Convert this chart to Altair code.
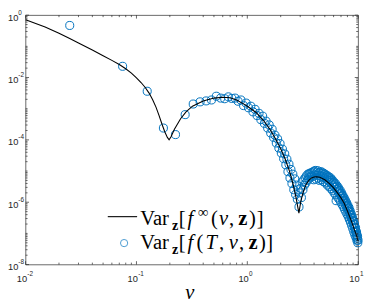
import altair as alt
import pandas as pd

# ---------------- data ----------------
line_v = [0.01, 0.015, 0.02, 0.025, 0.03, 0.04, 0.05, 0.06, 0.07, 0.08,
          0.09, 0.10, 0.11, 0.12, 0.13, 0.14, 0.15, 0.16, 0.17, 0.18,
          0.19, 0.197, 0.205, 0.22, 0.25, 0.28, 0.32, 0.40, 0.50, 0.60,
          0.70, 0.80, 0.90, 1.0, 1.2, 1.4, 1.6, 1.8, 2.0, 2.2,
          2.4, 2.6, 2.75, 2.85, 2.92, 2.98, 3.05, 3.2, 3.4, 3.6,
          3.8, 4.0, 4.2, 4.5, 5.0, 5.5, 6.0, 6.5, 7.0, 7.5,
          8.0, 8.5, 9.0, 9.5, 10.0]
line_log10 = [-0.15, -0.38, -0.58, -0.75, -0.89, -1.12, -1.30, -1.45, -1.58, -1.72,
              -1.86, -2.01, -2.16, -2.32, -2.50, -2.71, -2.95, -3.22, -3.50, -3.74,
              -3.92, -4.00, -3.90, -3.66, -3.32, -3.10, -2.92, -2.75, -2.66, -2.63,
              -2.65, -2.72, -2.82, -2.92, -3.12, -3.38, -3.66, -3.97, -4.28, -4.62,
              -5.00, -5.45, -5.85, -6.15, -6.35, -6.15, -5.95, -5.66, -5.42, -5.29,
              -5.22, -5.19, -5.18, -5.20, -5.28, -5.40, -5.54, -5.70, -5.86, -6.04,
              -6.28, -6.52, -6.76, -7.00, -7.25]

pts_v = [0.025, 0.075, 0.125, 0.175, 0.225, 0.275, 0.325, 0.375, 0.425, 0.475,
         0.525, 0.575, 0.625, 0.675, 0.725, 0.775, 0.825, 0.875, 0.925, 0.975,
         1.025, 1.075, 1.125, 1.175, 1.225, 1.275, 1.325, 1.375, 1.425, 1.475,
         1.525, 1.575, 1.625, 1.675, 1.725, 1.775, 1.825, 1.875, 1.925, 1.975,
         2.025, 2.075, 2.125, 2.175, 2.225, 2.275, 2.325, 2.375, 2.425, 2.475,
         2.525, 2.575, 2.625, 2.675, 2.725, 2.775, 2.825, 2.875, 2.925, 2.975,
         3.025, 3.075, 3.125, 3.175, 3.225, 3.275, 3.325, 3.375, 3.425, 3.475,
         3.525, 3.575, 3.625, 3.675, 3.725, 3.775, 3.825, 3.875, 3.925, 3.975,
         4.025, 4.075, 4.125, 4.175, 4.225, 4.275, 4.325, 4.375, 4.425, 4.475,
         4.525, 4.575, 4.625, 4.675, 4.725, 4.775, 4.825, 4.875, 4.925, 4.975,
         5.025, 5.075, 5.125, 5.175, 5.225, 5.275, 5.325, 5.375, 5.425, 5.475,
         5.525, 5.575, 5.625, 5.675, 5.725, 5.775, 5.825, 5.875, 5.925, 5.975,
         6.025, 6.075, 6.125, 6.175, 6.225, 6.275, 6.325, 6.375, 6.425, 6.475,
         6.525, 6.575, 6.625, 6.675, 6.725, 6.775, 6.825, 6.875, 6.925, 6.975,
         7.025, 7.075, 7.125, 7.175, 7.225, 7.275, 7.325, 7.375, 7.425, 7.475,
         7.525, 7.575, 7.625, 7.675, 7.725, 7.775, 7.825, 7.875, 7.925, 7.975,
         8.025, 8.075, 8.125, 8.175, 8.225, 8.275, 8.325, 8.375, 8.425, 8.475,
         8.525, 8.575, 8.625, 8.675, 8.725, 8.775, 8.825, 8.875, 8.925, 8.975,
         9.025, 9.075, 9.125, 9.175, 9.225, 9.275, 9.325, 9.375, 9.425, 9.475,
         9.525, 9.575, 9.625, 9.675, 9.725, 9.775, 9.825, 9.875, 9.925, 9.975]
pts_log10 = [-0.33, -1.64, -2.44, -3.62, -3.83, -3.19, -2.85, -2.78, -2.75, -2.72,
             -2.60, -2.66, -2.68, -2.62, -2.67, -2.66, -2.76, -2.72, -2.90, -2.82,
             -2.97, -2.92, -3.10, -3.02, -3.22, -3.15, -3.35, -3.24, -3.47, -3.40,
             -3.62, -3.52, -3.78, -3.66, -3.92, -3.85, -4.10, -3.97, -4.26, -4.12,
             -4.42, -4.30, -4.60, -4.45, -4.80, -4.62, -5.02, -4.78, -5.22, -4.95,
             -5.40, -5.10, -5.60, -5.25, -5.75, -5.45, -5.90, -5.60, -6.15, -5.70,
             -5.55, -5.85, -5.35, -5.60, -5.28, -5.45, -5.22, -5.38, -5.15, -5.30,
             -5.10, -5.26, -5.08, -5.20, -5.06, -5.15, -5.05, -5.18, -5.02, -5.28,
             -5.00, -5.12, -4.98, -5.26, -5.05, -5.14, -4.99, -5.22, -5.06, -5.30,
             -5.04, -5.16, -5.02, -5.28, -5.08, -5.18, -5.06, -5.34, -5.12, -5.22,
             -5.10, -5.38, -5.16, -5.26, -5.14, -5.45, -5.20, -5.30, -5.18, -5.50,
             -5.25, -5.36, -5.22, -5.56, -5.30, -5.42, -5.28, -5.62, -5.36, -5.48,
             -5.35, -5.70, -5.42, -5.52, -5.40, -5.76, -5.95, -5.50, -5.60, -5.48,
             -5.84, -5.58, -5.68, -5.55, -5.90, -5.65, -5.74, -5.62, -5.98, -5.72,
             -5.82, -5.70, -6.06, -5.80, -5.90, -5.78, -6.14, -5.88, -5.98, -5.86,
             -6.22, -5.96, -6.06, -5.94, -6.30, -6.04, -6.14, -6.02, -6.38, -6.12,
             -6.22, -6.10, -6.46, -6.20, -6.30, -6.18, -6.55, -6.30, -6.40, -6.28,
             -6.64, -6.40, -6.50, -6.38, -6.74, -6.50, -6.60, -6.48, -6.84, -6.60,
             -6.70, -6.58, -6.95, -6.70, -6.80, -6.70, -7.04, -6.82, -6.92, -6.82,
             -7.12, -6.94, -7.04, -6.96, -7.22, -7.06, -7.16, -7.10, -7.30, -7.22]

x_major = [0.01, 0.1, 1, 10]
x_major_exp = ["-2", "-1", "0", "1"]
y_major = [1e-8, 1e-6, 1e-4, 1e-2, 1]
y_major_exp = ["-8", "-6", "-4", "-2", "0"]

x_minor = [m * 10.0 ** k for k in (-2, -1, 0) for m in range(2, 10)]
y_minor = [m * 10.0 ** k for k in range(-8, 0) for m in range(1, 10)
           if not (m == 1 and k % 2 == 0)]

# ---------------- layout / style ----------------
W, H = 340, 255
AX = "#262626"
BLUE = "#0072BD"
OX, OY = 26, 12  # page position of the plot origin

xs = alt.Scale(type="log", domain=[0.01, 10], nice=False)
ys = alt.Scale(type="log", domain=[1e-8, 1], nice=False)

line_df = pd.DataFrame({"v": line_v, "y": [10 ** a for a in line_log10],
                        "o": list(range(len(line_v)))})
pts_df = pd.DataFrame({"v": pts_v, "y": [10 ** a for a in pts_log10]})

points = alt.Chart(pts_df).mark_point(
    shape="circle", filled=False, color=BLUE, size=68, strokeWidth=1, opacity=1
).encode(x=alt.X("v:Q", scale=xs, axis=None), y=alt.Y("y:Q", scale=ys, axis=None))

line = alt.Chart(line_df).mark_line(color="black", strokeWidth=1.1).encode(
    x=alt.X("v:Q", scale=xs, axis=None), y=alt.Y("y:Q", scale=ys, axis=None),
    order="o:Q")

layers = [points, line]


def xtick_layers(vals, L):
    df = pd.DataFrame({"t": vals})
    b = alt.Chart(df).mark_rule(color=AX, strokeWidth=0.7)
    xx = alt.X("t:Q", scale=xs, axis=None)
    return [b.encode(x=xx, y=alt.value(H), y2=alt.value(H - L)),
            b.encode(x=xx, y=alt.value(0), y2=alt.value(L))]


def ytick_layers(vals, L):
    df = pd.DataFrame({"t": vals})
    b = alt.Chart(df).mark_rule(color=AX, strokeWidth=0.7)
    yy = alt.Y("t:Q", scale=ys, axis=None)
    return [b.encode(y=yy, x=alt.value(0), x2=alt.value(L)),
            b.encode(y=yy, x=alt.value(W), x2=alt.value(W - L))]


layers += xtick_layers(x_major, 3.5) + xtick_layers(x_minor, 2)
layers += ytick_layers(y_major, 3.5) + ytick_layers(y_minor, 2)

# tick labels 10^k
ylab = pd.DataFrame({"t": y_major, "e": y_major_exp})
layers.append(alt.Chart(ylab).mark_text(
    text="10", align="left", baseline="middle", dy=2.5, font="Liberation Sans",
    fontSize=9.5, color=AX).encode(y=alt.Y("t:Q", scale=ys, axis=None),
                                    x=alt.value(-18)))
layers.append(alt.Chart(ylab).mark_text(
    align="left", baseline="middle", dy=-2.5, font="Liberation Sans",
    fontSize=6.5, color=AX).encode(y=alt.Y("t:Q", scale=ys, axis=None),
                                    x=alt.value(-7.4), text="e:N"))

xlab = pd.DataFrame({"t": x_major, "e": x_major_exp})
layers.append(alt.Chart(xlab).mark_text(
    text="10", align="right", baseline="middle", dx=1.5, font="Liberation Sans",
    fontSize=9.5, color=AX).encode(x=alt.X("t:Q", scale=xs, axis=None),
                                    y=alt.value(H + 15)))
layers.append(alt.Chart(xlab).mark_text(
    align="left", baseline="middle", dx=1.8, font="Liberation Sans",
    fontSize=6.5, color=AX).encode(x=alt.X("t:Q", scale=xs, axis=None),
                                    y=alt.value(H + 10), text="e:N"))


def txt(s, px, py, size=21, style="normal", weight="normal", align="center",
        font="Liberation Serif"):
    return alt.Chart(pd.DataFrame({"s": [s]})).mark_text(
        align=align, baseline="alphabetic", font=font, fontSize=size,
        fontStyle=style, fontWeight=weight, color="black"
    ).encode(text="s:N", x=alt.value(px - OX), y=alt.value(py - OY))


# x-axis title
layers.append(txt("v", 194, 302, size=21, style="italic"))

# legend
b1, b2 = 227, 251.5
one = pd.DataFrame({"a": [0]})
layers.append(alt.Chart(one).mark_rule(color="black", strokeWidth=1.1).encode(
    x=alt.value(110 - OX), x2=alt.value(140 - OX), y=alt.value(218 - OY)))
layers.append(alt.Chart(one).mark_point(
    shape="circle", filled=False, color=BLUE, size=55, strokeWidth=1).encode(
    x=alt.value(126.7 - OX), y=alt.value(245 - OY)))

layers += [
    txt("Var", 143.3, b1, align="left"),
    txt("z", 178.8, b1 + 4.5, size=14.5, weight="bold"),
    txt("[", 186.0, b1), txt("f", 194.5, b1, style="italic"),
    txt("\u221e", 207.5, b1 - 8.5, size=15), txt("(", 219.0, b1),
    txt("v", 228.3, b1, style="italic"), txt(",", 236.5, b1),
    txt("z", 248.0, b1, weight="bold"), txt(")", 258.0, b1), txt("]", 265.8, b1),

    txt("Var", 143.3, b2, align="left"),
    txt("z", 178.8, b2 + 4.5, size=14.5, weight="bold"),
    txt("[", 186.0, b2), txt("f", 194.5, b2, style="italic"),
    txt("(", 204.2, b2), txt("T", 215.8, b2, style="italic"),
    txt(",", 226.4, b2), txt("v", 238.3, b2, style="italic"),
    txt(",", 246.8, b2), txt("z", 258.6, b2, weight="bold"),
    txt(")", 268.2, b2), txt("]", 275.4, b2),
]

chart = alt.layer(*layers).properties(
    width=W, height=H,
    autosize=alt.AutoSizeParams(type="none"),
    padding={"left": 18, "top": 4, "right": 8, "bottom": 39},
).configure_view(stroke=AX, strokeWidth=0.7)

chart.save("out.html", embed_options={"renderer": "svg", "actions": False})
